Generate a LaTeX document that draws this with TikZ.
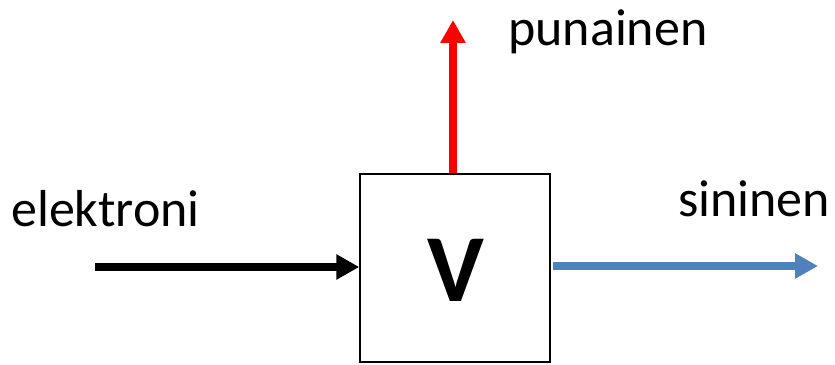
\documentclass[tikz,border=0pt]{standalone}
\usepackage{fontspec}
\setmainfont{Carlito}
\usetikzlibrary{arrows.meta}
\definecolor{sinblue}{RGB}{79,129,189}
\begin{document}
\begin{tikzpicture}[x=1pt,y=1pt,
  flow/.style={line width=7.5pt,-{Triangle[length=23pt,width=24pt]}},
  label/.style={anchor=base west,inner sep=0pt,font=\fontsize{52}{52}\selectfont}]
\useasboundingbox (0,0) rectangle (835,364);
% the V block
\node[draw=black,line width=1.5pt,fill=white,minimum width=190pt,minimum height=188pt,inner sep=0pt]
  (v) at (455,96) {};
\node[anchor=base,inner sep=0pt,font=\fontsize{96}{96}\selectfont\bfseries] (vtxt) at (456,62) {V};
% connectors
\coordinate (in) at (95,97);
\coordinate (up) at (453,344);
\coordinate (out) at (818,98);
\draw[flow,black] (in) -- (v.west |- in);
\draw[flow,red] (v.north -| up) -- (up);
\draw[flow,sinblue] ([xshift=2pt]v.east |- out) -- (out);
% labels
\node[label] (le) at (11,137) {elektroni};
\node[label] (lp) at (508,318) {punainen};
\node[label] (ls) at (678,147) {sininen};
\end{tikzpicture}
\end{document}
